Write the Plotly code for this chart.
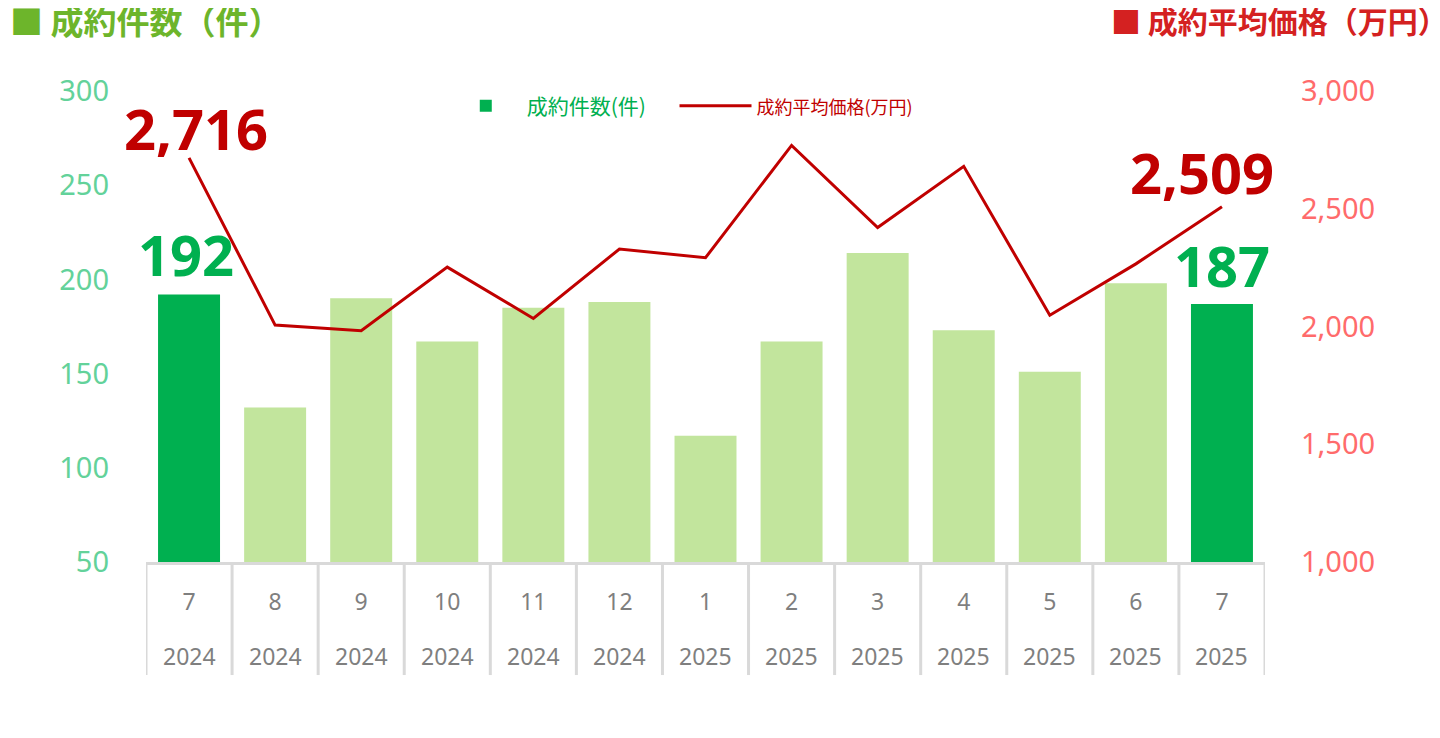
import plotly.graph_objs as go

# data
months = ["7", "8", "9", "10", "11", "12", "1", "2", "3", "4", "5", "6", "7"]
years = ["2024", "2024", "2024", "2024", "2024", "2024", "2025", "2025", "2025", "2025", "2025", "2025", "2025"]
deals = [192, 132, 190, 167, 185, 188, 117, 167, 214, 173, 151, 198, 187]
avg_price = [2716, 2006, 1982, 2252, 2034, 2329, 2292, 2769, 2420, 2680, 2048, 2266, 2509]

cats = [f"{y}-{m}" for y, m in zip(years, months)]

FONT = "Noto Sans, Noto Sans CJK JP"
CJK = "Noto Sans CJK JP"
DARK_GREEN = "#00B050"
LIGHT_GREEN = "rgba(146,208,80,0.56)"
DARK_RED = "#C00000"

bar_colors = [DARK_GREEN if i in (0, len(cats) - 1) else LIGHT_GREEN for i in range(len(cats))]

fig = go.Figure()

# trailing spaces push the second legend item to the right
fig.add_trace(go.Bar(x=cats, y=deals, marker=dict(color=bar_colors, line=dict(width=0)),
                     name=f"<span style='color:{DARK_GREEN}'>成約件数(件)</span>" + "&nbsp;" * 5,
                     yaxis="y"))
fig.add_trace(go.Scatter(x=cats, y=avg_price, mode="lines", line=dict(color=DARK_RED, width=3),
                         name=f"<span style='color:{DARK_RED};font-size:18px'>成約平均価格(万円)</span>",
                         yaxis="y2"))

# value labels for the first and last month
fig.add_annotation(x=cats[0], y=avg_price[0], yref="y2", text=f"<b>{avg_price[0]:,}</b>",
                   showarrow=False, yanchor="middle", yshift=30, xshift=7,
                   font=dict(family=FONT, size=56, color=DARK_RED))
fig.add_annotation(x=cats[-1], y=avg_price[-1], yref="y2", text=f"<b>{avg_price[-1]:,}</b>",
                   showarrow=False, yanchor="middle", yshift=35, xshift=-20,
                   font=dict(family=FONT, size=56, color=DARK_RED))
fig.add_annotation(x=cats[0], y=deals[0], yref="y", text=f"<b>{deals[0]}</b>",
                   showarrow=False, yanchor="middle", yshift=40, xshift=-3,
                   font=dict(family=FONT, size=56, color=DARK_GREEN))
fig.add_annotation(x=cats[-1], y=deals[-1], yref="y", text=f"<b>{deals[-1]}</b>",
                   showarrow=False, yanchor="middle", yshift=39,
                   font=dict(family=FONT, size=56, color=DARK_GREEN))

# year row under the month labels, and the box dividers
for i, c in enumerate(cats):
    fig.add_annotation(x=c, y=0, yref="paper", text=years[i], showarrow=False,
                       yanchor="middle", yshift=-94, font=dict(family=FONT, size=23, color="#7F7F7F"))
for i in range(len(cats) + 1):
    fig.add_shape(type="line", xref="x", yref="paper", x0=i - 0.5, x1=i - 0.5, y0=0, y1=-0.24,
                  line=dict(color="#D9D9D9", width=3))

# headers
fig.add_annotation(xref="paper", yref="paper", x=-0.1233, y=1.15, xanchor="left", yanchor="middle",
                   text="<b>■ 成約件数（件）</b>", showarrow=False,
                   font=dict(family=CJK, size=33, color="#6DB52B"))
fig.add_annotation(xref="paper", yref="paper", x=1.165, y=1.15, xanchor="right", yanchor="middle",
                   text="<b>■ 成約平均価格（万円）</b>", showarrow=False,
                   font=dict(family=CJK, size=30, color="#D42121"))

# the page body adds an 8px margin, so the figure is 8px smaller than the window
fig.update_layout(
    width=1432, height=730,
    margin=dict(l=138, r=175, t=83, b=176, autoexpand=False),
    paper_bgcolor="white", plot_bgcolor="white",
    font=dict(family=FONT),
    bargap=0.28,
    showlegend=True,
    legend=dict(orientation="h", x=0.267, xanchor="left", y=0.968, yanchor="middle",
                font=dict(family=CJK, size=21), bgcolor="rgba(0,0,0,0)", itemwidth=72),
    xaxis=dict(type="category", tickmode="array", tickvals=cats, ticktext=months, automargin=False,
               range=[-0.5, len(cats) - 0.5],
               showline=True, linecolor="#D9D9D9", linewidth=3, ticks="", showgrid=False,
               tickfont=dict(family=FONT, size=23, color="#7F7F7F"), ticklabelstandoff=17),
    yaxis=dict(range=[50, 300], tickvals=[50, 100, 150, 200, 250, 300], showgrid=False,
               zeroline=False, showline=False, ticks="", ticklabelstandoff=36, automargin=False,
               tickfont=dict(family=FONT, size=29, color="#63D29A")),
    yaxis2=dict(range=[1000, 3000], tickvals=[1000, 1500, 2000, 2500, 3000], tickformat=",",
                overlaying="y", side="right", showgrid=False, zeroline=False, ticks="",
                automargin=False, ticklabelstandoff=35,
                tickfont=dict(family=FONT, size=29, color="#FF6B6B")),
    yaxis3=dict(range=[50, 300], tickvals=[100, 150, 200, 250], overlaying="y", anchor="x",
                showgrid=True, gridcolor="#D9D9D9", gridwidth=1.5, showticklabels=False,
                zeroline=False, ticks="", automargin=False),
)

fig.write_html("out.html")
